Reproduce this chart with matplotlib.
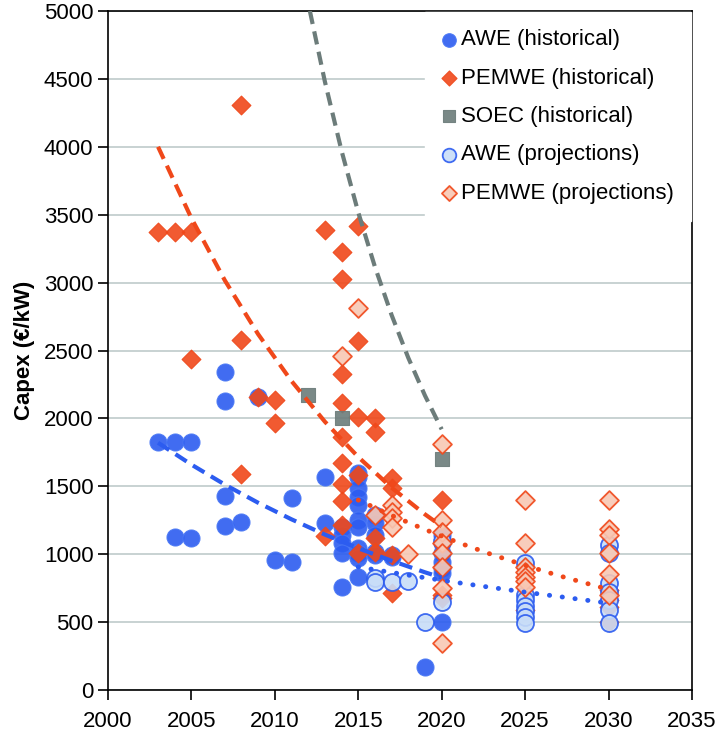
import matplotlib
matplotlib.use("Agg")
import matplotlib.pyplot as plt

plt.rcParams["font.family"] = ["Liberation Sans", "DejaVu Sans"]

# --- data ---
awe_hist_year = [2003, 2004, 2004, 2005, 2005, 2007, 2007, 2007, 2007, 2008,
                 2009, 2010, 2011, 2011, 2013, 2013,
                 2014, 2014, 2014, 2014, 2014,
                 2015, 2015, 2015, 2015, 2015, 2015, 2015, 2015, 2015, 2015, 2015,
                 2016, 2016, 2016, 2016, 2016, 2017, 2017,
                 2019, 2020, 2020, 2020, 2020, 2020, 2020, 2020]
awe_hist_val = [1829, 1829, 1129, 1829, 1122, 2344, 2130, 1428, 1208, 1240,
                2155, 957, 1416, 940, 1571, 1228,
                1203, 1141, 1080, 1006, 761,
                1600, 1570, 1485, 1424, 1362, 1252, 1203, 1043, 1006, 970, 834,
                1289, 1228, 1141, 1018, 994, 994, 980,
                172, 1141, 1080, 1006, 945, 896, 859, 503]

pem_hist_year = [2003, 2004, 2005, 2005, 2008, 2008, 2008, 2009, 2010, 2010,
                 2013, 2013,
                 2014, 2014, 2014, 2014, 2014, 2014, 2014, 2014, 2014,
                 2015, 2015, 2015, 2015, 2015,
                 2016, 2016, 2016, 2016,
                 2017, 2017, 2017, 2017,
                 2020, 2020, 2020, 2025, 2030, 2030, 2030, 2030]
pem_hist_val = [3370, 3370, 3370, 2440, 4310, 2577, 1588, 2155, 2135, 1964,
                3390, 1134,
                3228, 3027, 2327, 2110, 1865, 1669, 1515, 1394, 1215,
                3419, 2572, 2008, 1583, 1006,
                2001, 1898, 1117, 1018,
                1559, 1485, 994, 712,
                1399, 700, 680, 590, 740, 660, 614, 500]

soec_year = [2012, 2014, 2020]
soec_val = [2172, 2001, 1701]

awe_proj_year = [2016, 2016, 2017, 2018, 2019, 2020, 2020,
                 2025, 2025, 2025, 2025, 2025, 2025, 2025,
                 2030, 2030, 2030, 2030, 2030, 2030, 2030]
awe_proj_val = [822, 798, 798, 803, 503, 1100, 650,
                938, 700, 660, 620, 580, 540, 491,
                1068, 1006, 788, 720, 660, 589, 491]

pem_proj_year = [2014, 2015, 2016, 2017, 2017, 2017, 2017, 2018,
                 2020, 2020, 2020, 2020, 2020, 2020, 2020, 2020,
                 2025, 2025, 2025, 2025, 2025, 2025, 2025,
                 2030, 2030, 2030, 2030, 2030, 2030]
pem_proj_val = [2462, 2815, 1289, 1362, 1313, 1264, 1203, 1001,
                1809, 1252, 1166, 1080, 1006, 908, 750, 344,
                1399, 1080, 908, 870, 830, 800, 761,
                1399, 1186, 1141, 1010, 852, 700]

# trend curves
awe_fit_year = [2003, 2005, 2007, 2009, 2011, 2013, 2015, 2017, 2019, 2020]
awe_fit_val = [1821, 1660, 1513, 1379, 1257, 1145, 1044, 952, 867, 828]
pem_fit_year = [2003, 2005, 2007, 2009, 2011, 2013, 2015, 2017, 2019, 2020]
pem_fit_val = [4000, 3474, 3017, 2620, 2275, 1976, 1716, 1490, 1294, 1206]
soec_fit_year = [2012.1, 2013, 2014, 2015, 2016, 2017, 2018, 2019, 2020]
soec_fit_val = [5000, 4480, 3970, 3517, 3116, 2761, 2446, 2168, 1920]
awe_pfit_year = [2015, 2017, 2019, 2021, 2023, 2025, 2027, 2030]
awe_pfit_val = [906, 866, 827, 790, 755, 721, 689, 640]
pem_pfit_year = [2015, 2017, 2019, 2021, 2023, 2025, 2027, 2030]
pem_pfit_val = [1399, 1286, 1182, 1086, 998, 918, 843, 741]

BLUE = "#2C5CF0"
RED = "#F0481A"
GREY = "#6C7C7A"

fig = plt.figure(figsize=(7.2, 7.31), dpi=100)
ax = fig.add_axes([0.15, 0.056, 0.811, 0.929])

ax.grid(axis="y", color="#C4CFCF", linewidth=1.3, zorder=0)
ax.set_axisbelow(True)

ax.scatter(awe_hist_year, awe_hist_val, s=150, marker="o", color=BLUE,
           edgecolors="#4876F5", linewidths=0.8, alpha=0.9, zorder=3,
           label="AWE (historical)")
ax.scatter(pem_hist_year, pem_hist_val, s=92, marker="D", color=RED,
           edgecolors=RED, linewidths=0.8, alpha=0.9, zorder=3,
           label="PEMWE (historical)")
ax.scatter(soec_year, soec_val, s=105, marker="s", color=GREY,
           edgecolors=GREY, linewidths=0.8, alpha=0.9, zorder=3,
           label="SOEC (historical)")
ax.scatter(awe_proj_year, awe_proj_val, s=150, marker="o", color="#C8DDF8",
           edgecolors=BLUE, linewidths=1.3, alpha=0.9, zorder=3,
           label="AWE (projections)")
ax.scatter(pem_proj_year, pem_proj_val, s=92, marker="D", color="#F8C8B4",
           edgecolors=RED, linewidths=1.3, alpha=0.9, zorder=3,
           label="PEMWE (projections)")

dash = (0, (3.2, 1.8))
dots = (0, (0.05, 2.6))
ax.plot(awe_fit_year, awe_fit_val, color=BLUE, lw=3, ls=dash, zorder=4)
ax.plot(pem_fit_year, pem_fit_val, color=RED, lw=3, ls=dash, zorder=4)
ax.plot(soec_fit_year, soec_fit_val, color=GREY, lw=3, ls=dash, zorder=4)
ax.plot(awe_pfit_year, awe_pfit_val, color=BLUE, lw=3.5, ls=dots,
        dash_capstyle="round", zorder=4)
ax.plot(pem_pfit_year, pem_pfit_val, color=RED, lw=3.5, ls=dots,
        dash_capstyle="round", zorder=4)

ax.set_xlim(2000, 2035)
ax.set_ylim(0, 5000)
ax.set_xticks(range(2000, 2036, 5))
ax.set_yticks(range(0, 5001, 500))
ax.tick_params(axis="both", labelsize=16, length=7, width=1.2, direction="out")
ax.tick_params(axis="x", pad=8)
for sp in ax.spines.values():
    sp.set_linewidth(1.2)
ax.set_ylabel("Capex (€/kW)", fontsize=16, fontweight="bold", labelpad=6)

leg = ax.legend(loc="upper right", fontsize=16, frameon=True, fancybox=False,
                edgecolor="white", framealpha=1, markerscale=0.8,
                handlelength=0.6, handletextpad=0.2, labelspacing=0.78,
                borderpad=0.78, borderaxespad=0.05, scatterpoints=1)
leg.set_zorder(10)

fig.savefig("out.png", dpi=100)
